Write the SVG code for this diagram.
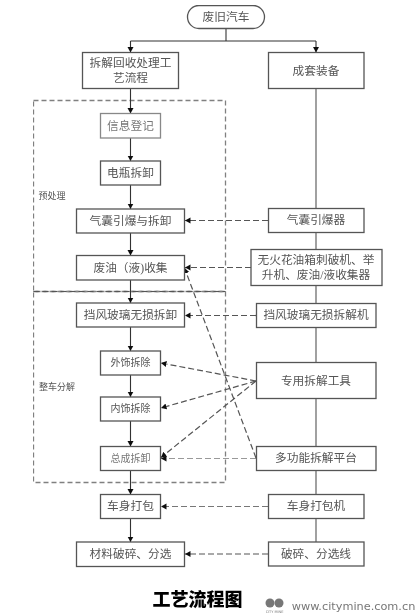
<svg xmlns="http://www.w3.org/2000/svg" width="418" height="615" viewBox="0 0 418 615">
<style>
.b{fill:#fff;stroke:#555;stroke-width:1.3}
.t{font-family:"Liberation Serif","Noto Sans CJK SC",serif;font-size:11.700px;fill:#555;text-anchor:middle}
.s{font-size:10px}
.l{font-size:9px}
.c{fill:none;stroke:#333;stroke-width:1.1}
.d{fill:none;stroke:#555;stroke-width:1.200;stroke-dasharray:6 3}
.g{fill:none;stroke:#808080;stroke-width:1.300;stroke-dasharray:5 3}
</style>
<defs>
<marker id="a" markerUnits="userSpaceOnUse" markerWidth="7" markerHeight="7" refX="5.500" refY="3" orient="auto"><path d="M0 0L5.500 3L0 6z" fill="#111"/></marker>
<filter id="soft" x="0" y="0" width="100%" height="100%"><feGaussianBlur stdDeviation="0.35"/></filter>
</defs>
<rect width="418" height="615" fill="#fff"/>
<g filter="url(#soft)">
<g id="regions">
<rect class="g" x="33.500" y="100.500" width="192" height="191"/>
<rect class="g" x="33.500" y="291.500" width="192" height="191"/>
<path class="d" d="M33.500 291.500H225.500"/>
<text class="t l" x="52" y="199">预处理</text>
<text class="t l" x="57" y="390">整车分解</text>
</g>
<g id="connectors">
<path class="c" d="M226 28V41M130.500 41H316"/>
<path class="c" marker-end="url(#a)" d="M130.500 41V52.500"/>
<path class="c" marker-end="url(#a)" d="M316 41V52.500"/>
<path class="c" marker-end="url(#a)" d="M130.500 88.500V113.500"/>
<path class="c" marker-end="url(#a)" d="M130.500 138V161"/>
<path class="c" marker-end="url(#a)" d="M130.500 185V209"/>
<path class="c" marker-end="url(#a)" d="M130.500 233V255.500"/>
<path class="c" marker-end="url(#a)" d="M130.500 280V303"/>
<path class="c" marker-end="url(#a)" d="M130.500 327V351"/>
<path class="c" marker-end="url(#a)" d="M130.500 375V397"/>
<path class="c" marker-end="url(#a)" d="M130.500 421V446.500"/>
<path class="c" marker-end="url(#a)" d="M130.500 470.500V494.500"/>
<path class="c" marker-end="url(#a)" d="M130.500 518.500V542"/>
<path class="c" style="stroke:#555" d="M316 88.500V542"/>
<path class="d" marker-end="url(#a)" d="M268 220.500H185"/>
<path class="d" marker-end="url(#a)" d="M251 267.500H185"/>
<path class="d" marker-end="url(#a)" d="M256 315.500H185"/>
<path class="d" marker-end="url(#a)" d="M256 381L161 363"/>
<path class="d" marker-end="url(#a)" d="M256 381L161 408"/>
<path class="d" marker-end="url(#a)" d="M256 381L161 457.500"/>
<path class="d" style="stroke:#999" marker-end="url(#a)" d="M256 458.500H161"/>
<path class="d" marker-end="url(#a)" d="M256 458L184.500 268"/>
<path class="d" style="stroke:#777" marker-end="url(#a)" d="M268 506.500H161"/>
<path class="d" marker-end="url(#a)" d="M268 554H185"/>
</g>
<g id="n1"><rect class="b" x="187.500" y="5.500" width="77" height="23" rx="11.500"/><text class="t" x="226" y="20.500">废旧汽车</text></g>
<g id="n2"><rect class="b" x="82.500" y="52.500" width="96" height="36"/><text class="t" x="130.500" y="67">拆解回收处理工</text><text class="t" x="130.500" y="82">艺流程</text></g>
<g id="n3"><rect class="b" x="268.500" y="52.500" width="95.500" height="36"/><text class="t" x="316" y="74.500">成套装备</text></g>
<g id="n4"><rect class="b" style="stroke:#888" x="100.500" y="113.500" width="60" height="24.500"/><text class="t" style="fill:#777" x="130.500" y="129.500">信息登记</text></g>
<g id="n5"><rect class="b" x="100.500" y="161" width="60" height="24"/><text class="t" x="130.500" y="177">电瓶拆卸</text></g>
<g id="n6"><rect class="b" x="76.500" y="209" width="108" height="24"/><text class="t" x="130.500" y="225">气囊引爆与拆卸</text></g>
<g id="n7"><rect class="b" x="268.500" y="208.500" width="95.500" height="24"/><text class="t" x="316" y="224">气囊引爆器</text></g>
<g id="n8"><rect class="b" x="76.500" y="255.500" width="108" height="24.500"/><text class="t" x="130.500" y="272">废油（液)收集</text></g>
<g id="n9"><rect class="b" x="251" y="249.500" width="131" height="36"/><text class="t" x="316" y="264">无火花油箱刺破机、举</text><text class="t" x="316" y="279">升机、废油/液收集器</text></g>
<g id="n10"><rect class="b" x="76.500" y="303" width="108" height="24"/><text class="t" x="130.500" y="319">挡风玻璃无损拆卸</text></g>
<g id="n11"><rect class="b" x="256.500" y="303.500" width="119.500" height="24"/><text class="t" x="316" y="319">挡风玻璃无损拆解机</text></g>
<g id="n12"><rect class="b" x="100.500" y="351" width="60" height="24"/><text class="t s" x="130.500" y="366">外饰拆除</text></g>
<g id="n13"><rect class="b" x="256.500" y="362.500" width="119.500" height="36"/><text class="t" x="316" y="384.500">专用拆解工具</text></g>
<g id="n14"><rect class="b" x="100.500" y="397" width="60" height="24"/><text class="t s" x="130.500" y="412">内饰拆除</text></g>
<g id="n15"><rect class="b" x="100.500" y="446.500" width="60" height="24"/><text class="t s" style="fill:#777" x="130.500" y="462">总成拆卸</text></g>
<g id="n16"><rect class="b" x="256.500" y="446.500" width="119.500" height="24"/><text class="t" x="316" y="462">多功能拆解平台</text></g>
<g id="n17"><rect class="b" x="100.500" y="494.500" width="60" height="24"/><text class="t" x="130.500" y="510">车身打包</text></g>
<g id="n18"><rect class="b" x="268.500" y="494.500" width="95.500" height="24"/><text class="t" x="316" y="510">车身打包机</text></g>
<g id="n19"><rect class="b" x="76.500" y="542" width="108" height="24.500"/><text class="t" x="130.500" y="558">材料破碎、分选</text></g>
<g id="n20"><rect class="b" x="268.500" y="542" width="95.500" height="24"/><text class="t" x="316" y="558">破碎、分选线</text></g>
<text x="197.500" y="606" style="font-family:'Noto Sans CJK SC',serif;font-size:18px;font-weight:900;text-anchor:middle;fill:#000">工艺流程图</text>
<text x="353.500" y="609.500" style="font-family:'DejaVu Sans',sans-serif;font-size:11.300px;text-anchor:middle;fill:#777">www.citymine.com.cn</text>
<circle cx="270" cy="603" r="4.500" fill="#777"/><circle cx="279" cy="603" r="4.500" fill="#777"/>
<text x="274.500" y="612.500" style="font-family:'DejaVu Sans',sans-serif;font-size:3.500px;text-anchor:middle;fill:#777">CITY MINE</text>
</g>
</svg>
